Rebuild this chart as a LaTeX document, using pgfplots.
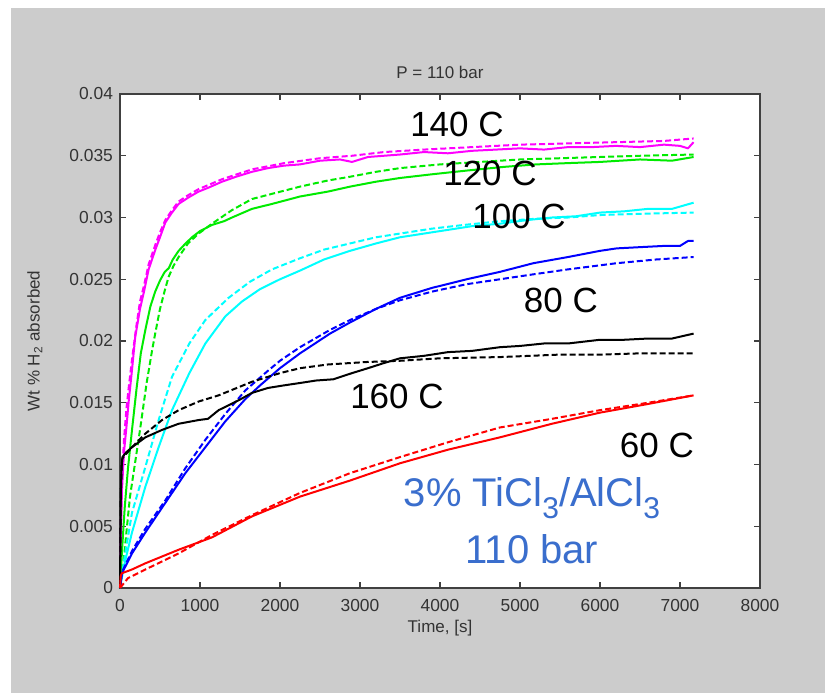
\documentclass[border=0pt]{standalone}
\usepackage{pgfplots}
\pgfplotsset{compat=1.18}
\usepackage{fontspec}
\setmainfont{Liberation Sans}
\definecolor{bggray}{RGB}{204,204,204}
\definecolor{mag}{RGB}{255,0,255}
\definecolor{grn}{RGB}{0,235,0}
\definecolor{cyn}{RGB}{0,255,255}
\definecolor{blu}{RGB}{0,0,255}
\definecolor{rd}{RGB}{255,0,0}
\definecolor{txtblue}{RGB}{58,110,205}
\newcommand{\bigsub}[1]{\raisebox{-6pt}{\fontsize{15pt}{15pt}\selectfont #1}}
\begin{document}
\begin{tikzpicture}
\fill[white] (-60pt,-52.5pt) rectangle (352.5pt,294pt);
\fill[bggray] (-54.5pt,-52.5pt) rectangle (352.5pt,290pt);
\begin{axis}[
  at={(0,0)}, anchor=south west,
  scale only axis, width=320pt, height=247pt,
  xmin=0, xmax=8000, ymin=0, ymax=0.04,
  xtick={0,1000,...,8000},
  ytick={0,0.005,0.01,0.015,0.02,0.025,0.03,0.035,0.04},
  scaled y ticks=false, scaled x ticks=false,
  /pgf/number format/1000 sep={},
  yticklabel style={/pgf/number format/fixed, /pgf/number format/precision=3},
  xticklabel style={yshift=-2pt},
  /pgf/number format/assume math mode=true,
  tick align=inside, tick pos=both,
  major tick length=3pt,
  axis line style={black!75, line width=0.6pt},
  every tick/.style={black!75, line width=0.6pt},
  tick label style={font=\fontsize{8.7pt}{10pt}\selectfont, text=black!80},
  axis background/.style={fill=white},
  xlabel={Time, [s]},
  ylabel={Wt \% H\textsubscript{2} absorbed},
  label style={font=\fontsize{8.5pt}{10pt}\selectfont, text=black!80},
  xlabel style={at={(axis description cs:0.5,-0.081)}, anchor=center},
  ylabel style={at={(axis description cs:-0.133,0.5)}, anchor=center},
  clip=false,
  every axis plot/.append style={line width=1pt, line join=round},
]
% 140 C magenta
\addplot[mag] coordinates {(0,0) (10,0.004) (25,0.008) (50,0.011) (80,0.013) (110,0.0152) (146,0.0174) (190,0.0203) (250,0.0226) (300,0.0240) (358,0.0258) (442,0.0274) (500,0.0284) (567,0.0296) (650,0.0304) (733,0.0311) (850,0.0316) (983,0.0321) (1100,0.0324) (1275,0.0329) (1450,0.0333) (1650,0.0337) (1850,0.0340) (2050,0.0342) (2250,0.0343) (2500,0.0346) (2750,0.0347) (2900,0.0345) (3100,0.0349) (3300,0.0350) (3500,0.0351) (3800,0.0353) (4100,0.0352) (4400,0.0354) (4700,0.0355) (5000,0.0356) (5300,0.0355) (5600,0.0357) (5900,0.0357) (6200,0.0358) (6500,0.0357) (6800,0.0359) (7000,0.0358) (7100,0.0356) (7170,0.0361)};
\addplot[mag, dash pattern=on 3pt off 1.5pt] coordinates {(0,0) (10,0.005) (25,0.009) (50,0.012) (80,0.0145) (110,0.0163) (150,0.0185) (200,0.0210) (250,0.0232) (300,0.0245) (358,0.0262) (442,0.0278) (500,0.0288) (567,0.0298) (650,0.0306) (733,0.0313) (850,0.0318) (983,0.0323) (1275,0.0331) (1650,0.0339) (2050,0.0344) (2500,0.0348) (2900,0.0350) (3300,0.0353) (3800,0.0355) (4400,0.0357) (5000,0.0359) (5600,0.0360) (6200,0.0361) (6800,0.0362) (7170,0.0364)};
% 120 C green
\addplot[grn] coordinates {(0,0) (25,0.003) (60,0.0066) (100,0.0097) (150,0.0128) (208,0.0162) (260,0.0190) (320,0.0210) (380,0.0228) (440,0.0240) (500,0.0249) (560,0.0256) (610,0.0259) (660,0.0266) (733,0.0273) (820,0.0279) (900,0.0284) (1000,0.0289) (1150,0.0294) (1300,0.0297) (1400,0.0300) (1650,0.0307) (1900,0.0311) (2250,0.0317) (2600,0.0321) (2875,0.0325) (3200,0.0329) (3500,0.0332) (3900,0.0335) (4333,0.0338) (4800,0.0341) (5200,0.0343) (5583,0.0344) (6000,0.0345) (6500,0.0347) (6900,0.0346) (7170,0.0349)};
\addplot[grn, dash pattern=on 3pt off 1.5pt] coordinates {(0,0) (40,0.0018) (80,0.0045) (125,0.0074) (190,0.0102) (250,0.0128) (333,0.0166) (400,0.0192) (437,0.0205) (500,0.0226) (560,0.0241) (608,0.0252) (670,0.0261) (733,0.0268) (850,0.0279) (983,0.0287) (1150,0.0295) (1400,0.0306) (1650,0.0315) (1950,0.0320) (2250,0.0325) (2600,0.0330) (2875,0.0333) (3200,0.0337) (3500,0.0340) (4000,0.0343) (4500,0.0345) (5000,0.0347) (5500,0.0348) (6000,0.0349) (6500,0.0350) (7170,0.0351)};
% 100 C cyan
\addplot[cyn] coordinates {(0,0) (50,0.0018) (150,0.0045) (317,0.0082) (483,0.0114) (650,0.0144) (867,0.0174) (1067,0.0198) (1317,0.0220) (1525,0.0232) (1750,0.0242) (2000,0.0250) (2250,0.0257) (2550,0.0266) (2875,0.0273) (3200,0.0279) (3500,0.0284) (3800,0.0287) (4100,0.0290) (4400,0.0293) (4750,0.0295) (5100,0.0298) (5400,0.0300) (5700,0.0301) (6000,0.0304) (6300,0.0305) (6600,0.0307) (6900,0.0307) (7170,0.0312)};
\addplot[cyn, dash pattern=on 3pt off 1.5pt] coordinates {(0,0) (50,0.0022) (150,0.0061) (317,0.0098) (483,0.0136) (650,0.0171) (867,0.0198) (1067,0.0217) (1358,0.0235) (1625,0.0248) (1900,0.0258) (2250,0.0267) (2550,0.0274) (2875,0.0279) (3200,0.0284) (3500,0.0287) (3900,0.0291) (4300,0.0294) (4750,0.0297) (5200,0.0299) (5600,0.0300) (6000,0.0302) (6500,0.0303) (7170,0.0304)};
% 80 C blue
\addplot[blu] coordinates {(0,0) (25,0.0012) (150,0.0028) (317,0.0045) (567,0.0069) (817,0.0093) (1067,0.0114) (1317,0.0135) (1567,0.0153) (1750,0.0164) (2000,0.0178) (2250,0.0190) (2625,0.0206) (2875,0.0215) (3200,0.0226) (3500,0.0235) (3900,0.0243) (4333,0.0250) (4750,0.0256) (5167,0.0263) (5600,0.0268) (6000,0.0273) (6208,0.0275) (6500,0.0276) (6800,0.0277) (7000,0.0277) (7100,0.0281) (7170,0.0281)};
\addplot[blu, dash pattern=on 3pt off 1.5pt] coordinates {(0,0) (25,0.0013) (150,0.0030) (317,0.0048) (567,0.0071) (817,0.0097) (1067,0.0120) (1317,0.0141) (1567,0.0160) (1833,0.0175) (2000,0.0184) (2250,0.0195) (2625,0.0209) (2875,0.0217) (3200,0.0226) (3500,0.0233) (3900,0.0240) (4333,0.0246) (4750,0.0250) (5167,0.0254) (5600,0.0258) (6208,0.0263) (6700,0.0266) (7170,0.0268)};
% 160 C black
\addplot[black] coordinates {(0,0) (5,0.004) (10,0.0075) (20,0.0098) (30,0.0106) (80,0.0110) (150,0.0114) (317,0.0122) (525,0.0128) (733,0.0133) (983,0.0136) (1100,0.0137) (1233,0.0144) (1483,0.0152) (1650,0.0158) (1850,0.0162) (2042,0.0164) (2250,0.0166) (2450,0.0168) (2667,0.0169) (2900,0.0174) (3100,0.0178) (3292,0.0182) (3500,0.0186) (3800,0.0188) (4100,0.0191) (4400,0.0192) (4750,0.0195) (5000,0.0196) (5300,0.0198) (5600,0.0198) (6000,0.0201) (6300,0.0201) (6600,0.0202) (6900,0.0202) (7170,0.0206)};
\addplot[black, dash pattern=on 3pt off 1.5pt] coordinates {(0,0) (5,0.004) (10,0.0075) (20,0.0098) (30,0.0105) (150,0.0114) (317,0.0125) (525,0.0136) (733,0.0144) (983,0.0151) (1233,0.0156) (1650,0.0167) (2000,0.0174) (2250,0.0178) (2600,0.0181) (3083,0.0183) (3500,0.0184) (4000,0.0186) (4750,0.0187) (5500,0.0189) (6000,0.0189) (6500,0.0190) (7170,0.0190)};
% 60 C red
\addplot[rd] coordinates {(0,0) (10,0.0010) (25,0.0012) (150,0.0015) (317,0.0020) (733,0.0031) (1150,0.0041) (1650,0.0058) (2250,0.0074) (2875,0.0087) (3500,0.0101) (4100,0.0112) (4750,0.0122) (5400,0.0133) (6000,0.0142) (6600,0.0149) (7170,0.0156)};
\addplot[rd, dash pattern=on 3pt off 1.5pt] coordinates {(0,0) (25,0.0002) (100,0.0008) (317,0.0015) (733,0.0028) (1150,0.0043) (1650,0.0059) (2250,0.0077) (2875,0.0093) (3500,0.0106) (4100,0.0118) (4750,0.0130) (5400,0.0137) (6000,0.0144) (6600,0.0150) (7170,0.0156)};
% labels
\begin{scope}[every node/.style={font=\fontsize{17.5pt}{20pt}\selectfont, anchor=base, inner sep=0pt}]
\node at (axis cs:4212,0.03652) {140 C};
\node at (axis cs:4625,0.03263) {120 C};
\node at (axis cs:4988,0.02915) {100 C};
\node at (axis cs:5512,0.02227) {80 C};
\node at (axis cs:3462,0.01457) {160 C};
\node at (axis cs:6712,0.01053) {60 C};
\node[text=txtblue, font=\fontsize{20pt}{24pt}\selectfont] at (axis cs:5150,0.00656) {3\% TiCl\bigsub{3}/AlCl\bigsub{3}};
\node[text=txtblue, font=\fontsize{20pt}{24pt}\selectfont] at (axis cs:5150,0.00202) {110 bar};
\end{scope}
\node[font=\fontsize{8.5pt}{10pt}\selectfont, text=black!80, anchor=center] at (rel axis cs:0.5,1) [yshift=11pt] {P = 110 bar};
\end{axis}
\pgfresetboundingbox
\path[use as bounding box] (-60pt,-52.5pt) rectangle (352.5pt,294pt);
\end{tikzpicture}
\end{document}
